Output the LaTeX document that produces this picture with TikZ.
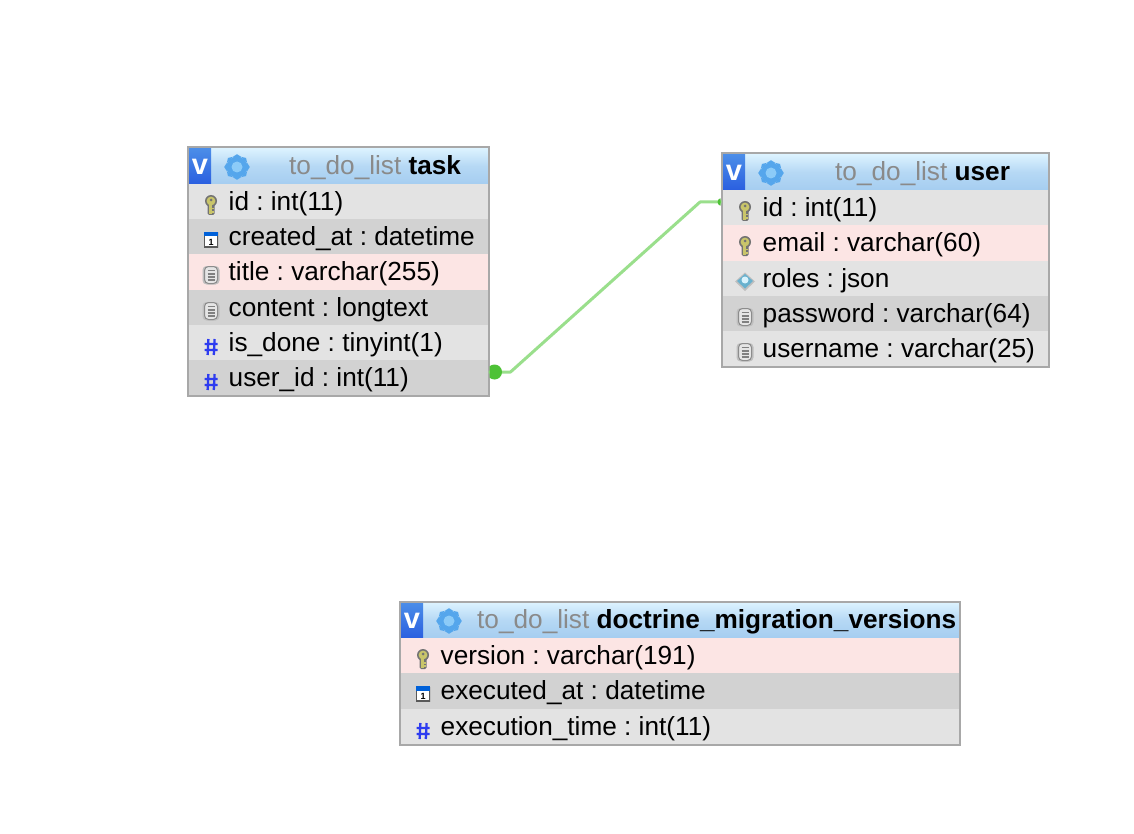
\documentclass[tikz,border=0pt]{standalone}
\usepackage{fontspec}
\setmainfont{Liberation Sans}
\definecolor{rowL}{HTML}{E3E3E3}
\definecolor{rowD}{HTML}{D2D2D2}
\definecolor{rowP}{HTML}{FCE5E4}
\definecolor{edgeC}{HTML}{A8A8A8}
\definecolor{headT}{HTML}{DDF3FF}
\definecolor{headB}{HTML}{A5CDF0}
\definecolor{vT}{HTML}{4C8EE8}
\definecolor{vB}{HTML}{2A5FE0}
\definecolor{gearC}{HTML}{55A6EC}
\definecolor{gearI}{HTML}{8CCBF8}
\definecolor{linkC}{HTML}{9ADF8C}
\definecolor{dotC}{HTML}{4EC236}
\definecolor{schemaC}{HTML}{8A8A8A}
\definecolor{hashC}{HTML}{2E3CF0}
\definecolor{keyC}{HTML}{C9C56A}
\tikzset{
  x=1pt,y=-1pt,
  rowtext/.style={anchor=base west,inner sep=0pt,font=\frenchspacing\fontsize{26.2}{30}\selectfont,text=black},
  headtext/.style={anchor=base west,inner sep=0pt,font=\frenchspacing\fontsize{26.2}{30}\selectfont},
  frame/.style={draw=edgeC,line width=2pt,fill=none,inner sep=0pt,outer sep=0pt,anchor=north west},
  link/.style={draw=linkC,line width=3pt,line join=round},
}
% \trow{x0}{x1}{top}{bottom}{color}{icon}{name}{text}
\newcommand{\trow}[8]{%
  \fill[#5] (#1,#3) rectangle (#2,#4);
  \edef\icx{\the\numexpr#1+23\relax}%
  \edef\icy{\the\numexpr(#3+#4)/2+2\relax}%
  \edef\tx{\the\numexpr#1+40\relax.5}%
  \edef\ty{\the\numexpr#3+26\relax.5}%
  \csname ic#6\endcsname{\icx}{\icy}
  \node[rowtext] (#7) at (\tx,\ty) {#8};
}
\newcommand{\ickey}[2]{\begin{scope}[shift={(#1,#2)}]
  \fill[black!55,rounded corners=1.5pt] (-3.5,0) rectangle (3.5,11);
  \fill[black!55] (0,-3) circle (6);
  \fill[keyC] (-2,0) rectangle (1,10);
  \fill[keyC] (1,4) rectangle (3.2,5.5); \fill[keyC] (1,7.2) rectangle (3.2,8.7);
  \fill[keyC] (0,-3) circle (4.4);
  \fill[black!55] (0,-4) circle (1.5);
\end{scope}}
\newcommand{\iccal}[2]{\begin{scope}[shift={(#1,#2)}]
  \fill[black!25] (-7.5,-6.5) rectangle (8,9);
  \fill[white] (-6.5,-6) rectangle (6.5,8);
  \draw[black!65,line width=1.3pt] (-6.5,-6) rectangle (6.5,8);
  \fill[blue!55!cyan!85!black] (-7,-7) rectangle (7,-2.5);
  \node[inner sep=0pt,font=\fontsize{9}{9}\bfseries\selectfont] at (0,3) {1};
\end{scope}}
\newcommand{\icdoc}[2]{\begin{scope}[shift={(#1,#2)}]
  \fill[black!25,rounded corners=4pt] (-8.5,-8) rectangle (8.5,10.5);
  \filldraw[fill=black!10,draw=black!45,line width=1pt,rounded corners=4pt] (-6.5,-7.5) rectangle (6.5,9.5);
  \draw[black!50,line width=1.1pt] (-3.5,-3.5) -- (3.5,-3.5) (-3.5,0) -- (3.5,0) (-3.5,3) -- (3.5,3) (-3.5,6) -- (3.5,6);
\end{scope}}
\newcommand{\ichash}[2]{\begin{scope}[shift={(#1,#2+2)}]
  \draw[hashC,line width=2.3pt] (-2.6,-8) -- (-3.4,8) (3.6,-8) -- (2.8,8) (-6.5,-3) -- (6.5,-3) (-6.5,3) -- (6.5,3);
\end{scope}}
\newcommand{\icjson}[2]{\begin{scope}[shift={(#1,#2)}]
  \fill[black!25] (0,-8.5) -- (10,0.5) -- (0,10) -- (-10,0.5) -- cycle;
  \fill[cyan!45!teal!70] (0,-7) -- (8,0) -- (0,7.5) -- (-8,0) -- cycle;
  \fill[cyan!15] (0,-1) circle (3.5);
\end{scope}}
% \tblhead{x0}{x1}{top}{bottom}{schema x}{name}{table name}
\newcommand{\tblhead}[7]{%
  \edef\vr{\the\numexpr#1+23\relax}%
  \edef\vx{\the\numexpr#1+12\relax}%
  \edef\ty{\the\numexpr#3+26\relax.5}%
  \edef\gx{\the\numexpr#1+49\relax}%
  \edef\gy{\the\numexpr#3+19\relax}%
  \shade[top color=headT,bottom color=headB,middle color=headB!70!headT] (#1,#3) rectangle (#2,#4);
  \shade[top color=vT,bottom color=vB] (#1,#3) rectangle (\vr,#4);
  \node[inner sep=0pt,font=\fontsize{29}{29}\bfseries\selectfont,text=white,anchor=base] at (\vx,\ty) {v};
  \begin{scope}[shift={(\gx,\gy)}]
    \foreach \a in {0,45,...,315}{\fill[gearC] (\a+22:11) -- (\a-22:11) -- (\a:12.8) -- cycle;}
    \fill[gearC] (0,0) circle (10.5);
    \fill[gearI] (0,0) circle (5.5);
  \end{scope}
  \node[headtext,text=schemaC] (#6) at (#5,\ty) {to\_do\_list \textcolor{black}{\textbf{#7}}};
}
\begin{document}
\begin{tikzpicture}
\useasboundingbox (0,0) rectangle (1134,834);
\fill[white] (0,0) rectangle (1134,834);
% task
\tblhead{188}{488}{148}{184}{289}{taskhead}{task}
\trow{188}{488}{184}{219}{rowL}{key}{taskid}{id : int(11)}
\trow{188}{488}{219}{254}{rowD}{cal}{taskcreated}{created\_at : datetime}
\trow{188}{488}{254}{290}{rowP}{doc}{tasktitle}{title : varchar(255)}
\trow{188}{488}{290}{325}{rowD}{doc}{taskcontent}{content : longtext}
\trow{188}{488}{325}{360}{rowL}{hash}{taskdone}{is\_done : tinyint(1)}
\trow{188}{488}{360}{395}{rowD}{hash}{taskuser}{user\_id : int(11)}
\node[frame,minimum width=301pt,minimum height=248pt] (task) at (187.5,147.5) {};
% user
\tblhead{722}{1048}{154}{190}{835}{userhead}{user}
\trow{722}{1048}{190}{225}{rowL}{key}{userid}{id : int(11)}
\trow{722}{1048}{225}{261}{rowP}{key}{useremail}{email : varchar(60)}
\trow{722}{1048}{261}{296}{rowL}{json}{userroles}{roles : json}
\trow{722}{1048}{296}{331}{rowD}{doc}{userpass}{password : varchar(64)}
\trow{722}{1048}{331}{366}{rowL}{doc}{username}{username : varchar(25)}
\node[frame,minimum width=327pt,minimum height=213pt] (user) at (721.5,153.5) {};
% doctrine
\tblhead{400}{959}{602}{638}{477}{dochead}{doctrine\_migration\_versions}
\trow{400}{959}{638}{673}{rowP}{key}{docversion}{version : varchar(191)}
\trow{400}{959}{673}{709}{rowD}{cal}{docexec}{executed\_at : datetime}
\trow{400}{959}{709}{744}{rowL}{hash}{doctime}{execution\_time : int(11)}
\node[frame,minimum width=560pt,minimum height=143pt] (doctrine) at (399.5,601.5) {};
% connector
\coordinate (a) at (task.east |- 0,372);
\coordinate (b) at (user.west |- 0,202);
\draw[link] (a) -- ++(22,0) -- (700,202) -- (b);
\begin{scope}
  \clip (489.5,355) rectangle (510,390);
  \fill[dotC] (a) ++(6,0) circle (7.5);
\end{scope}
\begin{scope}
  \clip (712,190) rectangle (720.5,215);
  \fill[dotC] (b) circle (4);
\end{scope}
\end{tikzpicture}
\end{document}
